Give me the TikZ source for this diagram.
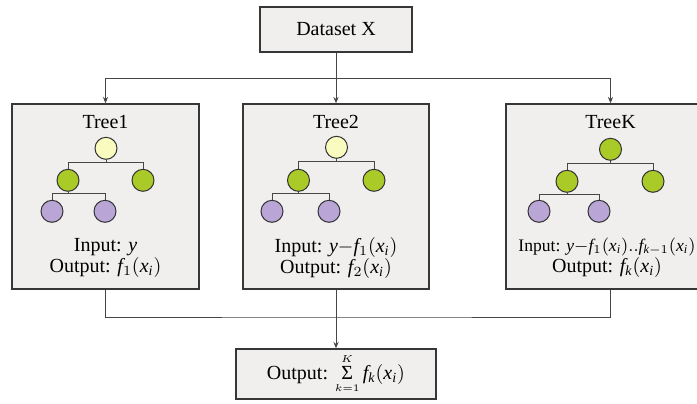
\documentclass[tikz,border=0pt]{standalone}
\usepackage{fontspec}
\setmainfont{Liberation Serif}
\usepackage{amsmath}
\usetikzlibrary{arrows.meta,positioning,calc}
\definecolor{boxfill}{RGB}{241,239,238}
\definecolor{boxline}{RGB}{55,55,55}
\definecolor{rootcol}{RGB}{250,251,190}
\definecolor{leafcol}{RGB}{170,202,40}
\definecolor{subcol}{RGB}{186,166,214}
\definecolor{linegray}{RGB}{70,70,70}

\begin{document}
\begin{tikzpicture}[
    x=0.5pt, y=-0.5pt,
    >={Stealth[length=3.2pt,width=2.6pt]},
    font=\fontsize{10}{10.5}\selectfont,
    mainbox/.style={draw=boxline, fill=boxfill, line width=0.7pt, inner sep=0pt},
    treebox/.style={mainbox, minimum width=#1, minimum height=92.5pt},
    circ/.style={circle, draw=black!80, line width=0.5pt, minimum size=11pt, inner sep=0pt, fill=#1},
    conn/.style={draw=linegray, line width=0.5pt},
    arr/.style={->, draw=linegray, line width=0.5pt},
]

\clip (0,0) rectangle (697,403);
\fill[white] (0,0) rectangle (697,403);

% ============ TOP: DATASET ============
\node[mainbox, minimum width=76pt, minimum height=22.5pt] at (336,29.5) (data) {Dataset X};

% ============ TREE BOXES ============
\node[treebox=93.5pt] at (105.5,196.5) (t1) {};
\node[treebox=93pt] at (336,196.5) (t2) {};
\node[treebox=104.5pt] at (610.5,196.5) (tk) {};

% ============ TREE 1 ============
\node at ($(t1.north)+(0,19)$) (t1t) {Tree1};
\node[circ=rootcol] at ($(t1.north)+(0.5,45)$) (t1r) {};
\node[circ=leafcol] at ($(t1.north)+(-37.5,77)$) (t1a) {};
\node[circ=leafcol] at ($(t1.north)+(37.5,77)$) (t1b) {};
\node[circ=subcol] at ($(t1.north)+(-53.5,108)$) (t1c) {};
\node[circ=subcol] at ($(t1.north)+(-0.5,108)$) (t1d) {};
\draw[conn] (t1r.south) -- ++(0,-1.5pt) coordinate (t1j);
\draw[conn] (t1a.north) |- (t1j) -| (t1b.north);
\draw[conn] (t1a.south) -- ++(0,-1pt) coordinate (t1k);
\draw[conn] (t1c.north) |- (t1k) -| (t1d.north);
\node[align=center] at ($(t1.north)+(0,155)$) (t1io) {Input: $\mathit{y}$\\Output: $\mathit{f}_1(\mathit{x}_{\mathit{i}})$};

% ============ TREE 2 ============
\node at ($(t2.north)+(0,19)$) (t2t) {Tree2};
\node[circ=rootcol] at ($(t2.north)+(0.5,44)$) (t2r) {};
\node[circ=leafcol] at ($(t2.north)+(-37.5,77)$) (t2a) {};
\node[circ=leafcol] at ($(t2.north)+(38,77)$) (t2b) {};
\node[circ=subcol] at ($(t2.north)+(-64,108)$) (t2c) {};
\node[circ=subcol] at ($(t2.north)+(-7,108)$) (t2d) {};
\draw[conn] (t2r.south) -- ++(0,-1.5pt) coordinate (t2j);
\draw[conn] (t2a.north) |- (t2j) -| (t2b.north);
\draw[conn] (t2a.south) -- ++(0,-1pt) coordinate (t2k);
\draw[conn] (t2c.north) |- (t2k) -| (t2d.north);
\node[align=center] at ($(t2.north)+(0,155)$) (t2io) {Input: $\mathit{y}{-}\mathit{f}_1(\mathit{x}_{\mathit{i}})$\\Output: $\mathit{f}_2(\mathit{x}_{\mathit{i}})$};

% ============ TREE K ============
\node at ($(tk.north)+(0,19)$) (tkt) {TreeK};
\node[circ=leafcol] at ($(tk.north)+(0,46)$) (tkr) {};
\node[circ=leafcol] at ($(tk.north)+(-43.5,78)$) (tka) {};
\node[circ=leafcol] at ($(tk.north)+(42.5,78)$) (tkb) {};
\node[circ=subcol] at ($(tk.north)+(-71.5,108)$) (tkc) {};
\node[circ=subcol] at ($(tk.north)+(-11.5,108)$) (tkd) {};
\draw[conn] (tkr.south) -- ++(0,-1.5pt) coordinate (tkj);
\draw[conn] (tka.north) |- (tkj) -| (tkb.north);
\draw[conn] (tka.south) -- ++(0,-1pt) coordinate (tkk);
\draw[conn] (tkc.north) |- (tkk) -| (tkd.north);
\node[align=center, inner sep=0pt] at ($(tk.north)+(-3.5,154)$) (tkio) {{\fontsize{8.8}{10}\selectfont Input: $\mathit{y}{-}\mathit{f}_1(\mathit{x}_{\mathit{i}})..\mathit{f}_{\mathit{k}{-}1}(\mathit{x}_{\mathit{i}})$}\\Output: $\mathit{f}_{\mathit{k}}(\mathit{x}_{\mathit{i}})$};

% ============ BOTTOM: OUTPUT ============
\node[mainbox, minimum width=100pt, minimum height=25pt] at (336,374) (out) {Output: $\mathop{\text{Σ}}\limits_{\scriptscriptstyle k=1}^{\scriptscriptstyle K}\mathit{f}_{\mathit{k}}(\mathit{x}_{\mathit{i}})$};

% ============ ARROWS ============
\draw[conn] (data.south) -- ++(0,-13pt) coordinate (split);
\draw[arr] (split) -| (t1.north);
\draw[arr] (split) -- (t2.north);
\draw[arr] (split) -| (tk.north);

\coordinate (merge) at (336,317);
\draw[conn] (t1.south) |- (merge) -| (tk.south);
\draw[conn] (t2.south) -- (merge);
\draw[arr] (merge) -- (out.north);

\end{tikzpicture}
\end{document}
